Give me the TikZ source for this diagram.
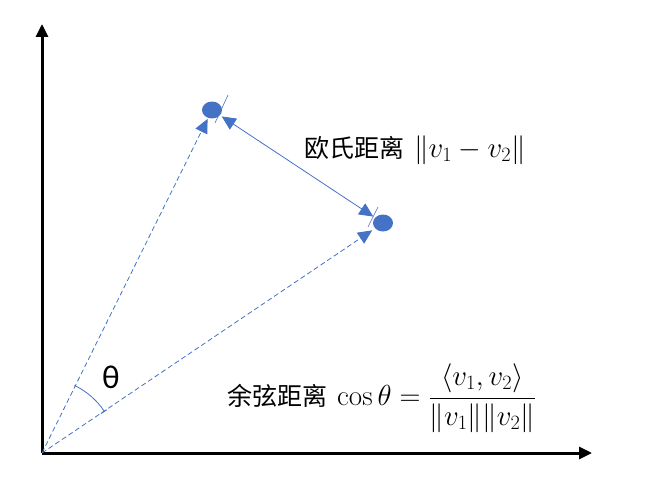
\RequirePackage{fix-cm}
\documentclass[tikz,border=0pt]{standalone}
\usepackage{fontspec}
\newfontfamily\cjk{Noto Sans CJK SC}
\newfontfamily\greekfont{Carlito}
\usetikzlibrary{arrows.meta,shapes.geometric}
\definecolor{ptblue}{RGB}{68,114,196}
\newcommand{\mathbig}[1]{{\fontsize{29}{34}\selectfont$#1$}}
\tikzset{
  axis/.style={line width=3pt,-{Triangle[length=13pt,width=12pt]}},
  point/.style={ellipse,fill=ptblue,minimum width=20pt,minimum height=17pt,inner sep=0pt},
  vec/.style={ptblue,line width=0.8pt,dash pattern=on 5pt off 3pt,-{Triangle[length=14pt,width=13pt]}},
  dist/.style={ptblue,line width=0.8pt,{Triangle[length=14pt,width=13pt]}-{Triangle[length=14pt,width=13pt]},shorten <=2pt,shorten >=2pt},
  lbl/.style={font=\cjk\fontsize{25}{30}\selectfont,inner sep=0pt,anchor=west}
}
\begin{document}
\begin{tikzpicture}[x=1pt,y=1pt]
\useasboundingbox (0,0) rectangle (668,491);
% axes
\coordinate (O) at (42,38);
\coordinate (ytop) at (42,467);
\coordinate (xend) at (592,38);
\draw[axis] (O) -- (ytop);
\draw[axis] (O) -- (xend);
% the two points
\node[point] (p1) at (212,381) {};
\node[point] (p2) at (383,268) {};
\draw[vec,shorten >=1pt] (O) -- (p1);
\draw[vec,shorten >=3.5pt] (O) -- (p2);
\draw[dist] (p1) -- (p2);
\draw[ptblue,line width=0.6pt] (228,396) -- (215,368);
\draw[ptblue,line width=0.6pt] (378,284) -- (368,264);
% angle
\draw[ptblue,line width=0.8pt] (O) ++(64.4:75) arc[start angle=64.4,end angle=33.7,radius=75pt];
\draw[ptblue,line width=0.8pt] (O) ++(33.7:71) -- ++(33.7:7);
\node[font=\greekfont\fontsize{33}{38}\selectfont,inner sep=0pt] (theta) at (111,114) {θ};
% labels
\node[lbl] (euclid) at (304,341) {欧氏距离\hspace{10pt}\mathbig{\|v_1-v_2\|}};
\node[lbl] (cosine) at (227,93) {余弦距离\hspace{10pt}\mathbig{\displaystyle\cos\theta=\frac{\langle v_1,v_2\rangle}{\|v_1\|\|v_2\|}}};
\end{tikzpicture}
\end{document}
